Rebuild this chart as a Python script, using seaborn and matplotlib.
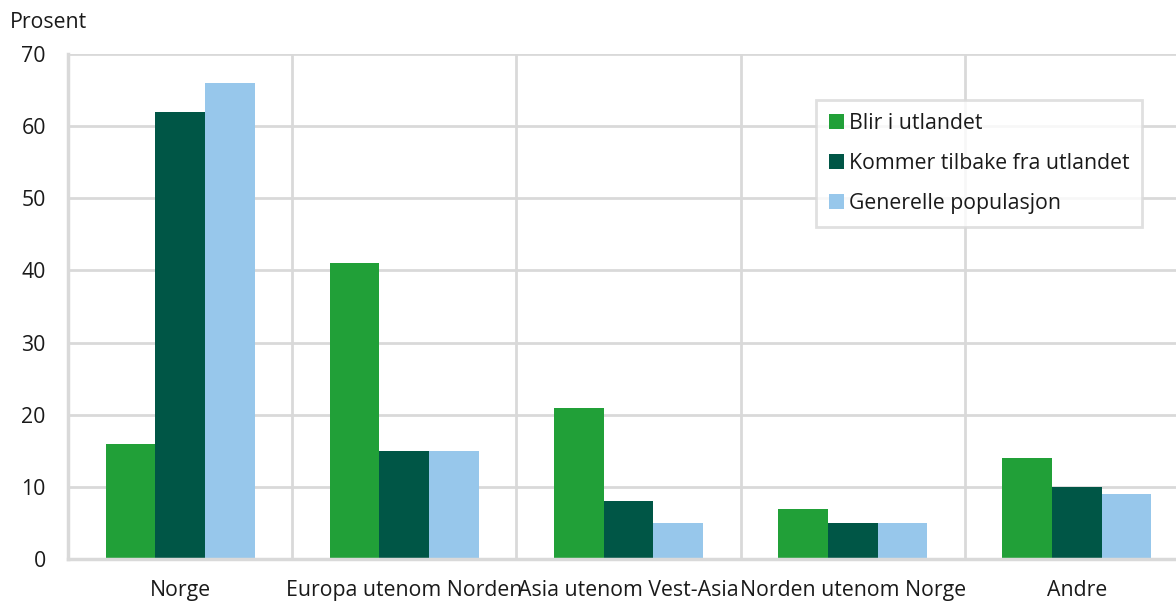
import matplotlib
matplotlib.use("Agg")
import matplotlib.pyplot as plt
import seaborn as sns
import pandas as pd

categories = ["Norge", "Europa utenom Norden", "Asia utenom Vest-Asia", "Norden utenom Norge", "Andre"]
series_names = ["Blir i utlandet", "Kommer tilbake fra utlandet", "Generelle populasjon"]
blir = [16, 41, 21, 7, 14]
kommer = [62, 15, 8, 5, 10]
generelle = [66, 15, 5, 5, 9]
colors = ["#21a038", "#005646", "#97c7eb"]
yticks = [0, 10, 20, 30, 40, 50, 60, 70]

rows = []
for name, vals in zip(series_names, [blir, kommer, generelle]):
    for c, v in zip(categories, vals):
        rows.append({"Kategori": c, "Serie": name, "Verdi": v})
df = pd.DataFrame(rows)

sns.set_theme(style="white")
plt.rcParams["font.family"] = ["Open Sans", "DejaVu Sans"]

FS = 15.3
fig = plt.figure(figsize=(11.76, 6.01), dpi=100)
W, H = 1176, 601
left, right, top, bottom = 68, 1189, 54, 559
ax = fig.add_axes([left / W, 1 - bottom / H, (right - left) / W, (bottom - top) / H])

sns.barplot(data=df, x="Kategori", y="Verdi", hue="Serie", order=categories,
            hue_order=series_names, palette=colors, width=0.665, saturation=1,
            edgecolor="none", linewidth=0, ax=ax, zorder=3)

ax.set_ylim(0, 70)
ax.set_xlim(-0.5, len(categories) - 0.5)
ax.set_yticks(yticks)
ax.set_yticklabels([str(t) for t in yticks], fontsize=FS, color="#1a1a1a")
ax.set_xticks(range(len(categories)))
ax.set_xticklabels(categories, fontsize=FS, color="#1a1a1a")
ax.tick_params(axis="both", length=0)
ax.tick_params(axis="y", pad=16)
ax.tick_params(axis="x", pad=15)
ax.set_xlabel("")
ax.set_ylabel("")

grid_c = "#d9d9d9"
for t in yticks[1:]:
    ax.axhline(t, color=grid_c, lw=2, zorder=1)
for b in range(1, len(categories) + 1):
    ax.axvline(b - 0.5, color=grid_c, lw=2, zorder=1)
for s in ["top", "right"]:
    ax.spines[s].set_visible(False)
for s in ["left", "bottom"]:
    ax.spines[s].set_color(grid_c)
    ax.spines[s].set_linewidth(2.5)
    ax.spines[s].set_zorder(4)

leg = ax.legend(loc="upper left", bbox_to_anchor=((816 - left) / (right - left), 1 - (100 - top) / (bottom - top)),
                fontsize=FS, frameon=True, fancybox=False, edgecolor=grid_c,
                handlelength=0.7, handleheight=0.7, handletextpad=0.25,
                labelspacing=0.9, borderpad=0.6, borderaxespad=0)
leg.get_frame().set_linewidth(2)
for t in leg.get_texts():
    t.set_color("#1a1a1a")

fig.text(10 / W, 1 - 22 / H, "Prosent", fontsize=FS, color="#1a1a1a", va="center", ha="left")

fig.savefig("out.png", dpi=100)
